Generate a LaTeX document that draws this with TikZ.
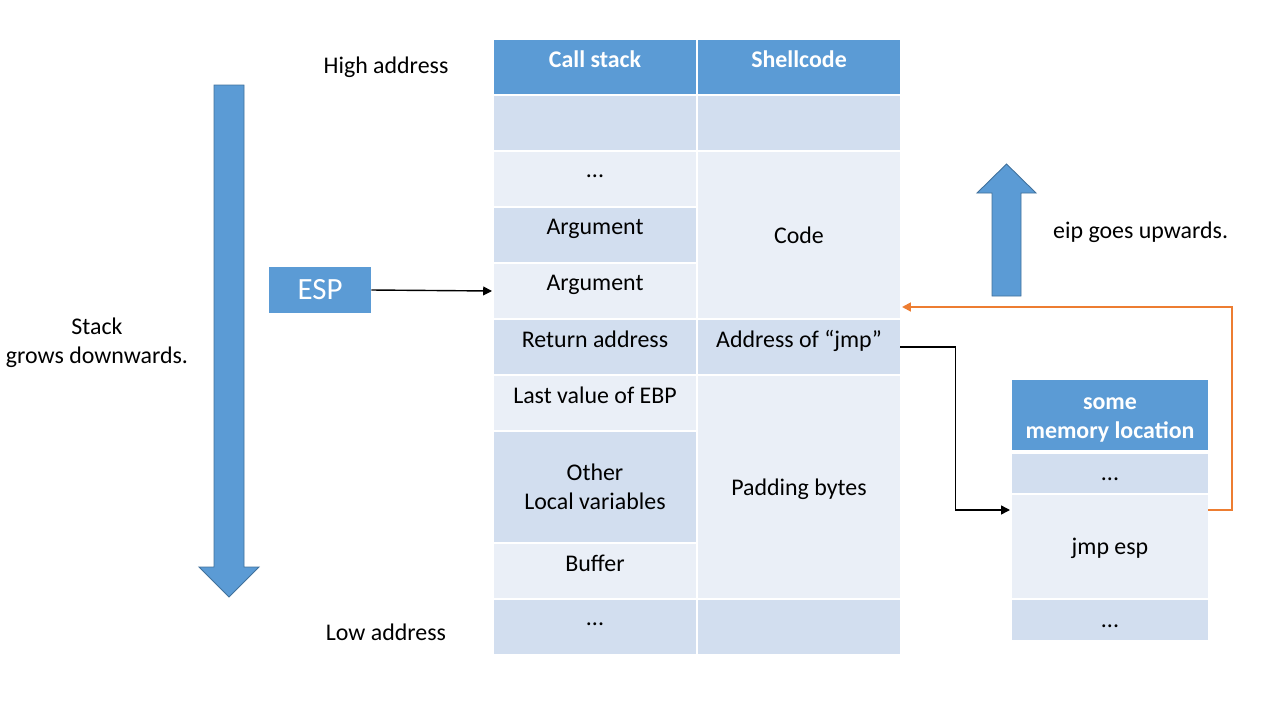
\documentclass[tikz,border=0pt]{standalone}
\usepackage{fontspec}
\setmainfont{Carlito}
\usetikzlibrary{arrows.meta}
\definecolor{hdblue}{RGB}{91,155,213}
\definecolor{rowdark}{RGB}{210,222,239}
\definecolor{rowlight}{RGB}{234,239,247}
\definecolor{edgeblue}{RGB}{65,113,156}
\definecolor{jmporange}{RGB}{237,125,49}
\tikzset{%
	cell/.style={
		rectangle,
		inner sep=0pt,
		minimum width=4.04cm,
		minimum height=1.08cm,
		align=center,
		font=\fontsize{13.6}{16.5}\selectfont
	},
	dark cell/.style={cell, fill=rowdark},
	light cell/.style={cell, fill=rowlight},
	head cell/.style={cell, fill=hdblue, text=white,
		font=\bfseries\fontsize{13.6}{16.5}\selectfont},
	raised/.style={text depth=0.32cm},
	raised dots/.style={text height=0.25cm, text depth=0.32cm},
	lowered/.style={text height=0.29cm, text depth=0pt},
	plain text/.style={font=\fontsize{13.6}{16.5}\selectfont, align=center},
	ptr/.style={-{Triangle[length=5pt,width=5pt]}, line width=0.8pt},
	back ptr/.style={-{Triangle[length=5pt,width=5pt]}, line width=1.1pt, draw=jmporange},
	block arrow/.style={fill=hdblue, draw=edgeblue, line width=0.5pt},
}
\begin{document}
\begin{tikzpicture}[x=0.02cm, y=-0.02cm]
			\useasboundingbox (0,0) rectangle (1280,720);
			
			% call stack column
			\node[head cell, raised] (cshead) at (595,67) {Call stack};
			\node[dark cell] (cs1) at (595,123) {};
			\node[light cell, raised dots] (cs2) at (595,179) {...};
			\node[dark cell, raised] (arg1) at (595,235) {Argument};
			\node[light cell, raised] (arg2) at (595,291) {Argument};
			\node[dark cell, raised] (ret) at (595,347) {Return address};
			\node[light cell, raised] (ebp) at (595,403) {Last value of EBP};
			\node[dark cell, minimum height=2.2cm] (locals) at (595,487) {Other\\Local variables};
			\node[light cell, raised] (buf) at (595,571) {Buffer};
			\node[dark cell, raised dots] (cs9) at (595,627) {...};
			
			% shellcode column
			\node[head cell, raised] (schead) at (799,67) {Shellcode};
			\node[dark cell] (sc1) at (799,123) {};
			\node[light cell, minimum height=3.32cm] (code) at (799,235) {Code};
			\node[dark cell, raised] (addr) at (799,347) {Address of “jmp”};
			\node[light cell, minimum height=4.44cm, text depth=0pt] (pad) at (799,487) {Padding bytes};
			\node[dark cell] (sc9) at (799,627) {};
			
			% some memory location
			\node[head cell, minimum width=3.92cm, minimum height=1.4cm,
				text height=1.04cm, text depth=0.12cm] (memhead) at (1110,415) {some\\memory location};
			\node[dark cell, lowered, minimum width=3.92cm, minimum height=0.78cm] (mem1) at (1110,473.5) {...};
			\node[light cell, minimum width=3.92cm, minimum height=2.06cm, text depth=0pt] (jmp) at (1110,546.5) {jmp esp};
			\node[dark cell, lowered, minimum width=3.92cm, minimum height=0.8cm] (mem3) at (1110,620) {...};
			
			% labels
			\node[plain text] (high) at (386,67) {High address};
			\node[plain text] (low) at (386,632) {Low address};
			\node[plain text] (grows) at (97,343) {Stack\\grows downwards.};
			\node[plain text, anchor=west] (eip) at (1047,232) {eip goes upwards.};
			\node[cell, fill=hdblue, text=white, minimum width=2.04cm, minimum height=0.92cm,
				font=\fontsize{17.6}{20}\selectfont] (esp) at (320,290) {ESP};
			
			% big arrows
			\filldraw[block arrow] (214,85) -- (244,85) -- (244,567) -- (259,567) -- (229,597)
				-- (199,567) -- (214,567) -- cycle;
			\filldraw[block arrow] (992,296) -- (1021,296) -- (1021,193) -- (1036,193) -- (1006.5,164)
				-- (977,193) -- (992,193) -- cycle;
			
			% pointers
			\coordinate (jmpin) at (1010,510);
			\coordinate (jmpout) at (1208,510);
			\coordinate (codein) at (902,307);
			\draw[ptr] (esp.east) -- (arg2.west -| 492,0);
			\draw[ptr] (addr.east) -- ++(55,0) |- (jmpin);
			\draw[back ptr] (jmpout) -- ++(24,0) |- (codein);
			
		\end{tikzpicture}
\end{document}
